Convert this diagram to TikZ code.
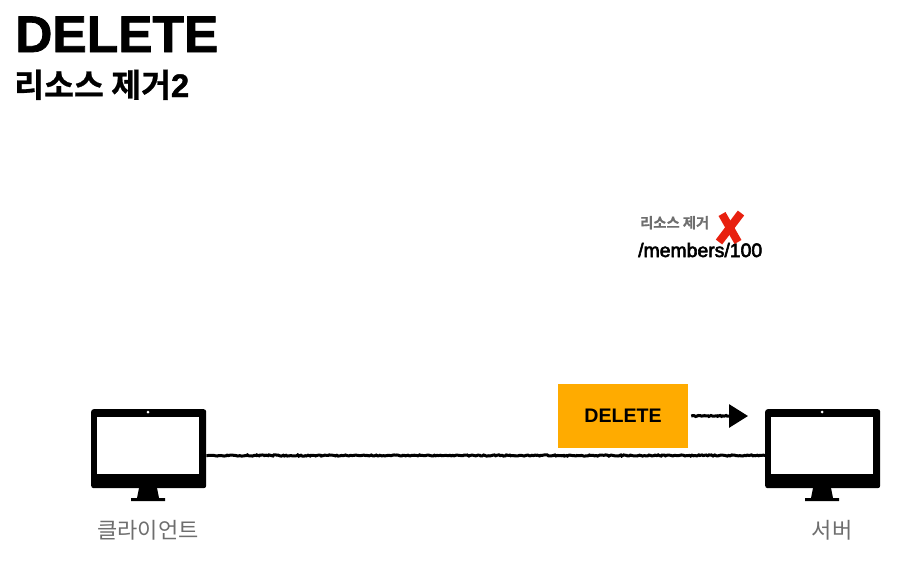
\documentclass[tikz,border=0pt]{standalone}
\usepackage{fontspec}
\setmainfont{Liberation Sans}
\newfontfamily\krfont{Noto Sans CJK KR}
\newfontfamily\krbold[FakeBold=0.8]{Noto Sans CJK KR Bold}
\newfontfamily\heavyfont[FakeBold=1.5]{Liberation Sans Bold}
\newfontfamily\mediumfont[FakeBold=3]{Liberation Sans}
\usetikzlibrary{arrows.meta,decorations.pathmorphing}
\definecolor{boxorange}{HTML}{FFAB00}
\definecolor{labelgray}{HTML}{6E6E6E}
\definecolor{crossred}{HTML}{E8200F}
\tikzset{
	rough/.style={line width=3pt,decorate,decoration={random steps,segment length=1.5pt,amplitude=0.6pt,post=lineto,post length=21pt}},
	body/.style={draw=none,fill=black,rounded corners=2.5pt,minimum width=115pt,minimum height=79pt,inner sep=0pt},
	caption/.style={text=labelgray,font=\fontsize{22}{24}\selectfont\krfont}
}
\begin{document}
\begin{tikzpicture}[x=1pt,y=-1pt]
		\useasboundingbox (0,0) rectangle (912,560);
		
		% title
		\node[anchor=base west,inner sep=0pt,font=\fontsize{51.5}{54}\selectfont\heavyfont] (title) at (15,52) {DELETE};
		\node[anchor=base west,inner sep=0pt,font=\fontsize{32.5}{34}\selectfont\krbold] (subtitle) at (14,97) {리소스 제거{\heavyfont 2}};
		
		% monitors
		\foreach \name/\x/\cx/\label in {client/91/148/클라이언트,server/765/832/서버}
		{
			\node[body,anchor=north west] (\name) at (\x,409) {};
			\fill[white] (\x+6,417) rectangle (\x+108,474);
			\fill[white] (\x+57,412) circle (1.5pt);
			\fill (\x+48,488) -- (\x+66,488) -- (\x+68,498) -- (\x+74,498) -- (\x+74,501) -- (\x+40,501) -- (\x+40,498) -- (\x+46,498) -- cycle;
			\node[caption] (\name label) at (\cx,530) {\label};
		}
		
		% request
		\node[fill=boxorange,minimum width=130pt,minimum height=64pt,inner sep=0pt,font=\fontsize{19.6}{22}\selectfont\bfseries] (method) at (623,416) {\raisebox{-2pt}{DELETE}};
		\coordinate (tip) at (748,416);
		\draw[rough,decoration={post length=0pt}] (client.east |- 0,455.5) -- (server.west |- 0,455.5);
		\draw[rough,-{Triangle[length=19pt,width=23pt]}] ([xshift=3pt]method.east) -- (tip);
		
		% resource
		\node[anchor=base west,inner sep=0pt,text=labelgray,font=\fontsize{14.3}{16}\selectfont\krbold] (removed) at (640,228) {리소스 제거};
		\node[anchor=base west,inner sep=0pt,font=\fontsize{19.4}{22}\selectfont\mediumfont] (path) at (638,257) {/members/100};
		\draw[crossred,line width=8pt] (722,214) -- (738,242);
		\draw[crossred,line width=8pt] (741,213) -- (719,242);
	\end{tikzpicture}
\end{document}
